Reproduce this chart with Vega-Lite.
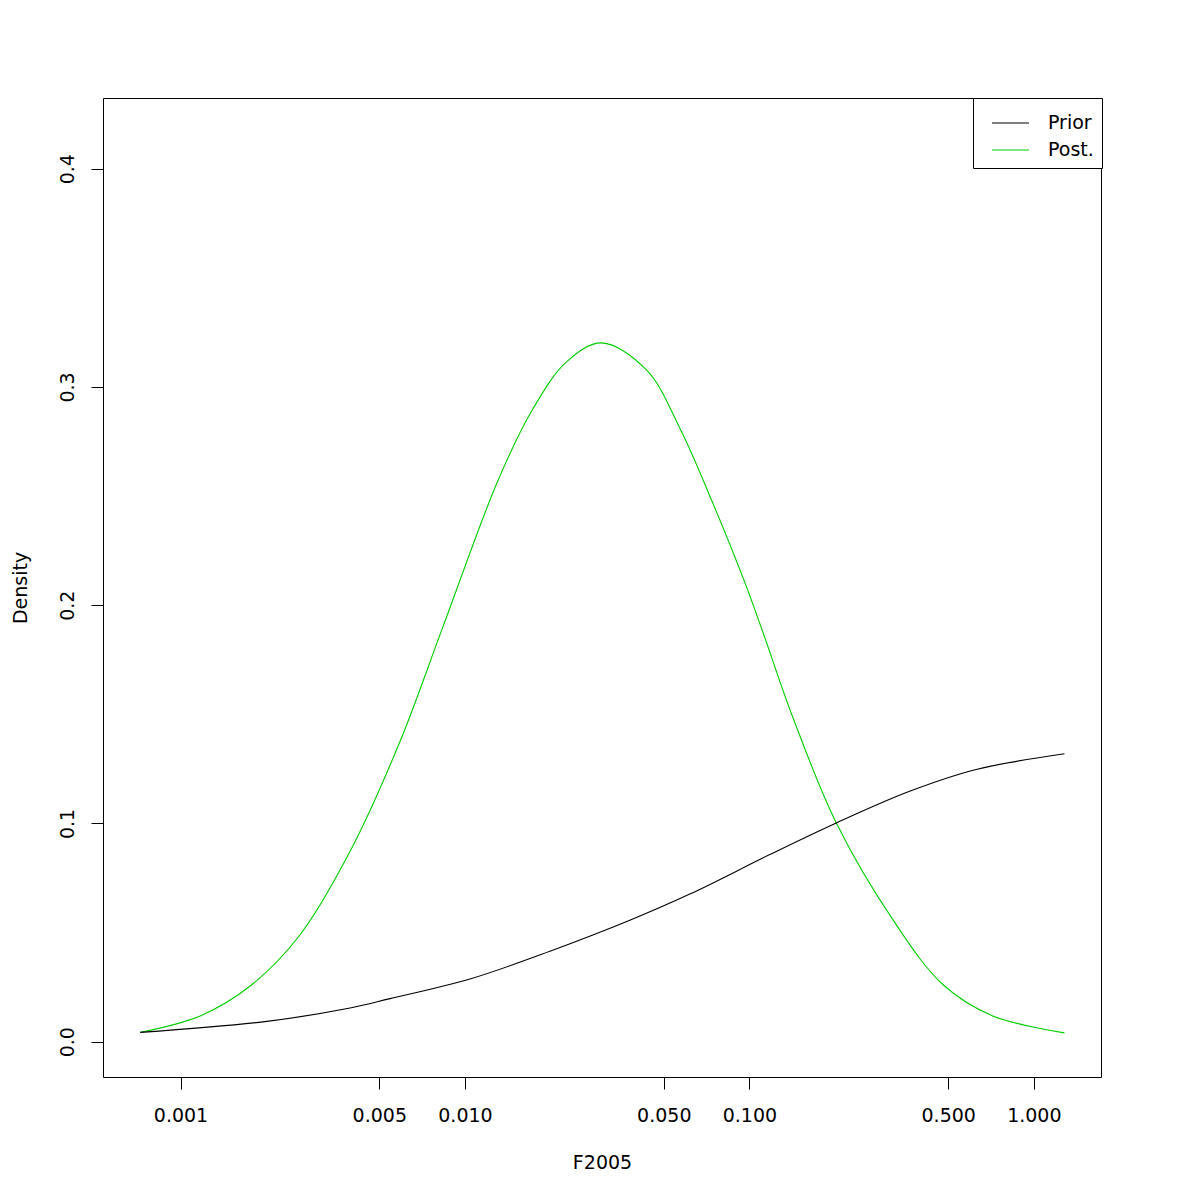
{
  "$schema": "https://vega.github.io/schema/vega-lite/v6.json",
  "width": 998,
  "height": 979,
  "autosize": {"type": "none"},
  "padding": {"left": 103, "top": 98, "right": 99, "bottom": 123},
  "background": "white",
  "config": {
    "font": "DejaVu Sans",
    "view": {"stroke": "black", "strokeWidth": 1},
    "axis": {
      "domain": false,
      "grid": false,
      "tickColor": "black",
      "tickWidth": 1,
      "tickSize": 12,
      "labelColor": "black",
      "labelFontSize": 19,
      "labelFont": "DejaVu Sans",
      "titleFont": "DejaVu Sans",
      "titleFontSize": 19,
      "titleFontWeight": "normal",
      "titleColor": "black"
    }
  },
  "data": {
    "values": [
      {"series": "Post.", "F": 0.000722, "density": 0.00426},
      {"series": "Post.", "F": 0.001173, "density": 0.0118},
      {"series": "Post.", "F": 0.001757, "density": 0.0255},
      {"series": "Post.", "F": 0.002633, "density": 0.049},
      {"series": "Post.", "F": 0.003946, "density": 0.0872},
      {"series": "Post.", "F": 0.00591, "density": 0.1375},
      {"series": "Post.", "F": 0.00839, "density": 0.1905},
      {"series": "Post.", "F": 0.01311, "density": 0.2576},
      {"series": "Post.", "F": 0.01738, "density": 0.2902},
      {"series": "Post.", "F": 0.02276, "density": 0.3115},
      {"series": "Post.", "F": 0.03021, "density": 0.3202},
      {"series": "Post.", "F": 0.04347, "density": 0.3078},
      {"series": "Post.", "F": 0.0569, "density": 0.2812},
      {"series": "Post.", "F": 0.07452, "density": 0.2465},
      {"series": "Post.", "F": 0.09761, "density": 0.2085},
      {"series": "Post.", "F": 0.1125, "density": 0.1862},
      {"series": "Post.", "F": 0.1422, "density": 0.1485},
      {"series": "Post.", "F": 0.2021, "density": 0.1002},
      {"series": "Post.", "F": 0.3194, "density": 0.0559},
      {"series": "Post.", "F": 0.4786, "density": 0.0262},
      {"series": "Post.", "F": 0.7172, "density": 0.0118},
      {"series": "Post.", "F": 1.281, "density": 0.004},
      {"series": "Prior", "F": 0.000722, "density": 0.00426},
      {"series": "Prior", "F": 0.002012, "density": 0.0093},
      {"series": "Prior", "F": 0.003946, "density": 0.0154},
      {"series": "Prior", "F": 0.005453, "density": 0.0197},
      {"series": "Prior", "F": 0.01041, "density": 0.0287},
      {"series": "Prior", "F": 0.01989, "density": 0.0414},
      {"series": "Prior", "F": 0.03798, "density": 0.0556},
      {"series": "Prior", "F": 0.06172, "density": 0.0676},
      {"series": "Prior", "F": 0.1179, "density": 0.0857},
      {"series": "Prior", "F": 0.2021, "density": 0.1002},
      {"series": "Prior", "F": 0.3657, "density": 0.1147},
      {"series": "Prior", "F": 0.627, "density": 0.1247},
      {"series": "Prior", "F": 1.281, "density": 0.1319}
    ]
  },
  "mark": {"type": "line", "interpolate": "catmull-rom", "strokeWidth": 1.1},
  "encoding": {
    "x": {
      "field": "F",
      "type": "quantitative",
      "scale": {"type": "log", "domain": [0.000534, 1.722], "nice": false},
      "axis": {
        "title": "F2005",
        "values": [0.001, 0.005, 0.01, 0.05, 0.1, 0.5, 1],
        "format": ".3f",
        "labelPadding": 17,
        "titlePadding": 28,
        "labelFlush": false,
        "labelOverlap": false
      }
    },
    "y": {
      "field": "density",
      "type": "quantitative",
      "scale": {"domain": [-0.0162, 0.4324], "nice": false, "zero": false},
      "axis": {
        "title": "Density",
        "values": [0, 0.1, 0.2, 0.3, 0.4],
        "format": ".1f",
        "labelAngle": -90,
        "labelAlign": "center",
        "labelBaseline": "alphabetic",
        "labelPadding": 18,
        "titlePadding": 28,
        "labelFlush": false,
        "labelOverlap": false
      }
    },
    "color": {
      "field": "series",
      "type": "nominal",
      "sort": ["Prior", "Post."],
      "scale": {"domain": ["Prior", "Post."], "range": ["black", "#00CD00"]},
      "legend": {
        "title": null,
        "orient": "none",
        "legendX": 870,
        "legendY": 0,
        "direction": "vertical",
        "strokeColor": "black",
        "fillColor": "white",
        "cornerRadius": 0,
        "padding": 8,
        "symbolType": "M-0.375,0H1.9375",
        "symbolSize": 1024,
        "symbolStrokeWidth": 1.1,
        "labelOffset": 33,
        "labelFontSize": 19,
        "labelFont": "DejaVu Sans",
        "labelColor": "black",
        "rowPadding": -10
      }
    }
  }
}
